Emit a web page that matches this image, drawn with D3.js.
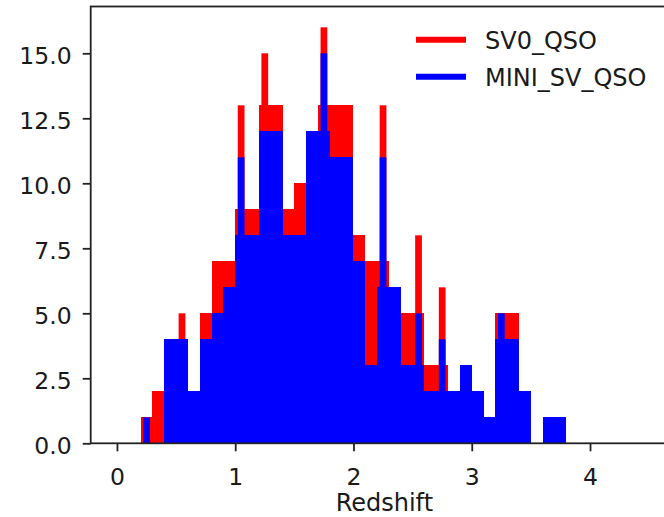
<!DOCTYPE html>
<html>
<head>
<meta charset="utf-8">
<script src="https://cdn.jsdelivr.net/npm/d3@7"></script>
<style>
  body { margin: 0; background: white; }
  text { font-family: "DejaVu Sans", sans-serif; fill: #1a1a1a; }
</style>
</head>
<body>
<script>
const width = 664;
const height = 517;

// histogram bins (left edges, 0.1 wide)
const binLefts = [0.2, 0.3, 0.4, 0.5, 0.6, 0.7, 0.8, 0.9, 1.0, 1.1, 1.2, 1.3,
  1.4, 1.5, 1.6, 1.7, 1.8, 1.9, 2.0, 2.1, 2.2, 2.3, 2.4, 2.5, 2.6, 2.7, 2.8,
  2.9, 3.0, 3.1, 3.2, 3.3, 3.4, 3.5, 3.6, 3.7];
const sv0Counts = [1, 2, 4, 4, 2, 5, 7, 7, 9, 9, 13, 13, 9, 10, 12, 13, 13, 13,
  8, 7, 7, 6, 5, 5, 3, 3, 2, 3, 2, 1, 5, 5, 2, 0, 1, 1];
const miniCounts = [0, 0, 4, 4, 2, 4, 5, 6, 8, 8, 12, 12, 8, 8, 12, 12, 11, 11,
  7, 3, 6, 6, 3, 3, 2, 2, 2, 3, 2, 1, 4, 4, 2, 0, 1, 1];

// narrow spikes sitting inside some bins
const spikeCenters = [0.25, 0.55, 1.05, 1.25, 1.75, 2.25, 2.55, 2.75, 3.25];
const sv0Spikes = [1, 5, 13, 15, 16, 13, 8, 6, 5];
const miniSpikes = [1, 4, 11, 12, 15, 11, 5, 4, 5];

const seriesNames = ["SV0_QSO", "MINI_SV_QSO"];
const seriesColors = ["red", "blue"];
const xTicks = [0, 1, 2, 3, 4];
const yTicks = [0, 2.5, 5, 7.5, 10, 12.5, 15];

const binWidth = 0.1;
const spikeWidth = 0.057;

const plotLeft = 90.7, plotRight = 678, plotTop = 6.5, plotBottom = 443.3;

const x = d3.scaleLinear().domain([-0.222, 4.744]).range([plotLeft, plotRight]);
const y = d3.scaleLinear().domain([0, 16.8]).range([plotBottom, plotTop]);

const svg = d3.select("body")
  .append("svg")
  .attr("width", width)
  .attr("height", height);

function drawSeries(lefts, counts, centers, spikes, color) {
  const g = svg.append("g");

  g.selectAll(null)
    .data(d3.zip(lefts, counts).filter(d => d[1] > 0))
    .join("rect")
    .attr("x", d => x(d[0]))
    .attr("width", d => x(d[0] + binWidth) - x(d[0]))
    .attr("y", d => y(d[1]))
    .attr("height", d => y(0) - y(d[1]))
    .attr("fill", color)
    .attr("shape-rendering", "crispEdges");

  g.selectAll(null)
    .data(d3.zip(centers, spikes).filter(d => d[1] > 0))
    .join("rect")
    .attr("x", d => x(d[0] - spikeWidth / 2))
    .attr("width", d => x(d[0] + spikeWidth / 2) - x(d[0] - spikeWidth / 2))
    .attr("y", d => y(d[1]))
    .attr("height", d => y(0) - y(d[1]))
    .attr("fill", color);
}

drawSeries(binLefts, sv0Counts, spikeCenters, sv0Spikes, seriesColors[0]);
drawSeries(binLefts, miniCounts, spikeCenters, miniSpikes, seriesColors[1]);

// y axis
const yAxis = svg.append("g")
  .attr("transform", `translate(${plotLeft},0)`)
  .call(d3.axisLeft(y).tickValues(yTicks).tickFormat(d3.format(".1f"))
    .tickSize(8).tickPadding(11));
yAxis.select(".domain").remove();
yAxis.selectAll("line").attr("stroke", "#222").attr("stroke-width", 1.8);
yAxis.selectAll("text")
  .attr("dy", "0.43em")
  .style("font-size", "23.5px")
  .attr("font-family", null);

// x axis
const xAxis = svg.append("g")
  .attr("transform", `translate(0,${plotBottom})`)
  .call(d3.axisBottom(x).tickValues(xTicks).tickFormat(d3.format("d")).tickSize(8));
xAxis.select(".domain").remove();
xAxis.selectAll("line").attr("stroke", "#222").attr("stroke-width", 1.8);
xAxis.selectAll("text")
  .attr("y", 485 - plotBottom)
  .attr("dy", 0)
  .style("font-size", "23.5px")
  .attr("font-family", null);

// frame
svg.append("rect")
  .attr("x", plotLeft)
  .attr("y", plotTop)
  .attr("width", plotRight - plotLeft)
  .attr("height", plotBottom - plotTop)
  .attr("fill", "none")
  .attr("stroke", "#222")
  .attr("stroke-width", 1.8);

svg.append("text")
  .attr("x", (plotLeft + plotRight) / 2)
  .attr("y", 511)
  .attr("text-anchor", "middle")
  .style("font-size", "24px")
  .text("Redshift");

// legend
const legend = svg.append("g");
seriesNames.forEach((name, i) => {
  const ly = 39.7 + i * 37;
  legend.append("line")
    .attr("x1", 416).attr("x2", 466)
    .attr("y1", ly).attr("y2", ly)
    .attr("stroke", seriesColors[i])
    .attr("stroke-width", 6);
  legend.append("text")
    .attr("x", 485)
    .attr("y", ly + 9.5)
    .style("font-size", "24px")
    .text(name);
});
</script>
</body>
</html>
